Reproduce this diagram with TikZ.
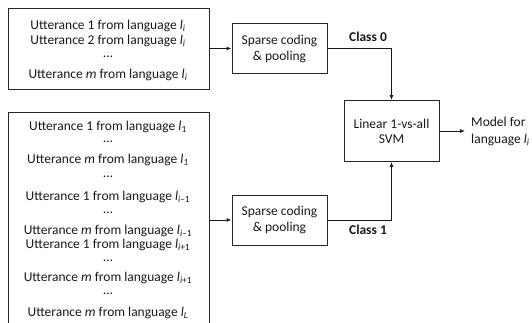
\documentclass[tikz,border=0pt]{standalone}
\usepackage{fontspec}
\setmainfont{Carlito}
\usetikzlibrary{arrows.meta}
\newcommand{\lng}[1]{\textit{l}\textsubscript{#1}}
\begin{document}
\begin{tikzpicture}[x=1pt,y=-1pt,
  box/.style={draw=black!85, line width=0.9pt, inner sep=0pt},
  lbl/.style={font=\fontsize{13.5}{16}\selectfont, inner sep=0pt, text=black!90},
  ln/.style={lbl, anchor=base},
  conn/.style={draw=black!90, line width=0.9pt},
  arr/.style={conn, -{Latex[length=5pt,width=4pt]}}]
\useasboundingbox (0,0) rectangle (532,323);
\clip (0,0) rectangle (532,323);
% left boxes
\node[box, minimum width=201pt, minimum height=81pt] (b1) at (108.5,48.5) {};
\node[box, minimum width=201pt, minimum height=228pt] (b2) at (108.5,226) {};
% box 1 text
\node[ln] (a1) at (108,29.2) {Utterance 1 from language \lng{\textit{i}}};
\node[ln] (a2) at (108,44.2) {Utterance 2 from language \lng{\textit{i}}};
\node[ln] (a3) at (108,57.5) {…};
\node[ln] (a4) at (108,78.2) {Utterance \textit{m} from language \lng{\textit{i}}};
% box 2 text
\node[ln] (c1) at (108,130.4) {Utterance 1 from language \lng{1}};
\node[ln] (c2) at (108,143) {…};
\node[ln] (c3) at (108,163.4) {Utterance \textit{m} from language \lng{\textit{1}}};
\node[ln] (c4) at (108,178) {…};
\node[ln] (c5) at (108,200.4) {Utterance 1 from language \lng{\textit{i}–1}};
\node[ln] (c6) at (108,213) {…};
\node[ln] (c7) at (108,234.4) {Utterance \textit{m} from language \lng{\textit{i}–1}};
\node[ln] (c8) at (108,248.4) {Utterance 1 from language \lng{\textit{i}+1}};
\node[ln] (c9) at (108,261) {…};
\node[ln] (c10) at (108,281.4) {Utterance \textit{m} from language \lng{\textit{i}+1}};
\node[ln] (c11) at (108,294) {…};
\node[ln] (c12) at (108,316.4) {Utterance \textit{m} from language \lng{\textit{L}}};
% processing boxes
\node[box, lbl, align=center, minimum width=95pt, minimum height=50pt] (s1) at (279.5,48.5) {Sparse coding\\\& pooling};
\node[box, lbl, align=center, minimum width=95pt, minimum height=50pt] (s2) at (279.5,220) {Sparse coding\\\& pooling};
\node[box, lbl, align=center, minimum width=95pt, minimum height=61pt, font=\fontsize{13.5}{15}\selectfont] (svm) at (391.5,131) {Linear 1-vs-all\\SVM};
% connectors
\draw[arr] (s1.west -| b1.east) -- (s1.west);
\draw[arr] (s2.west -| b2.east) -- (s2.west);
\draw[arr] (s1.east) -- (svm.north |- s1.east) -- (svm.north);
\draw[arr] (s2.east) -- (svm.south |- s2.east) -- (svm.south);
\coordinate (o) at (465,131);
\draw[arr] (svm.east) -- (o);
% labels
\node[lbl, font=\fontsize{13.5}{16}\selectfont\bfseries] (k0) at (368,37) {Class 0};
\node[lbl, font=\fontsize{13.5}{16}\selectfont\bfseries] (k1) at (368,230) {Class 1};
\node[lbl, anchor=west, align=left, font=\fontsize{13.5}{17}\selectfont] (m) at (471,131.5) {Model for\\language \lng{\textit{i}}};
\end{tikzpicture}
\end{document}
